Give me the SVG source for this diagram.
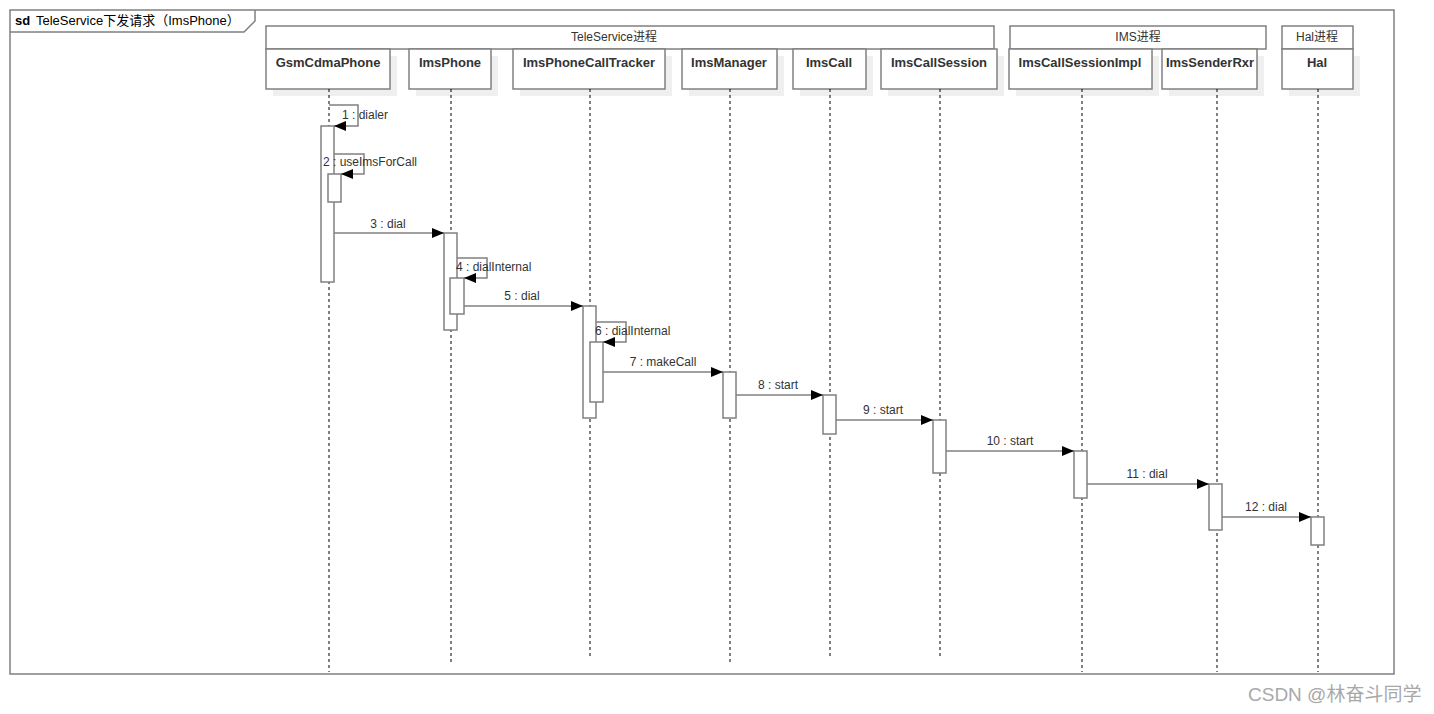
<svg xmlns="http://www.w3.org/2000/svg" width="1434" height="714" viewBox="0 0 1434 714">
<defs>
<marker id="ah" viewBox="0 0 12 10" refX="12" refY="5" markerWidth="12" markerHeight="10" markerUnits="userSpaceOnUse" orient="auto">
<path d="M0,0 L12,5 L0,10 Z" fill="#000"/>
</marker>
</defs>
<style>
.frame{fill:#fff;stroke:#808080;stroke-width:1.5}
.box{fill:#fff;stroke:#808080;stroke-width:1.5}
.shadow{fill:#efefef;stroke:none}
.grp{fill:#fff;stroke:#808080;stroke-width:1.5}
.life{stroke:#000;stroke-width:1;stroke-dasharray:3,3;fill:none}
.act{fill:#fff;stroke:#808080;stroke-width:1.5}
.msg{fill:none;stroke:#808080;stroke-width:1.5;marker-end:url(#ah)}
.name{font-family:"Liberation Sans",Arial,"Noto Sans CJK SC",sans-serif;font-size:13px;font-weight:bold;fill:#333;text-anchor:middle}
.gtxt{font-family:"Liberation Sans",Arial,"Noto Sans CJK SC",sans-serif;font-size:12px;fill:#333;text-anchor:middle}
.lbl{font-family:"Liberation Sans",Arial,"Noto Sans CJK SC",sans-serif;font-size:12px;fill:#333}
.lblc{font-family:"Liberation Sans",Arial,"Noto Sans CJK SC",sans-serif;font-size:12px;fill:#333;text-anchor:middle}
</style>
<rect x="0" y="0" width="1434" height="714" fill="#fff"/>
<g id="frame">
<rect class="frame" x="10" y="10" width="1384" height="664"/>
<path d="M10,32 L244,32 L255,21 L255,10" fill="none" stroke="#808080" stroke-width="1.5"/>
<text x="15" y="25" font-family="Liberation Sans,Arial,'Noto Sans CJK SC',sans-serif" font-size="13" fill="#000"><tspan font-weight="bold">sd</tspan><tspan x="36">TeleService下发请求（ImsPhone）</tspan></text>
</g>
<g id="groups">
<g id="grp-teleservice"><rect class="grp" x="266" y="26" width="728" height="23"/><text class="gtxt" x="614" y="41">TeleService进程</text></g>
<g id="grp-ims"><rect class="grp" x="1010" y="26" width="256" height="23"/><text class="gtxt" x="1138" y="41">IMS进程</text></g>
<g id="grp-hal"><rect class="grp" x="1282" y="26" width="71" height="23"/><text class="gtxt" x="1317" y="41">Hal进程</text></g>
</g>
<g id="lifelines">
<g id="GsmCdmaPhone"><rect class="shadow" x="273" y="56" width="124" height="40"/><rect class="box" x="266" y="49" width="124" height="40"/><text class="name" x="328" y="67">GsmCdmaPhone</text><line class="life" x1="329" y1="89" x2="329" y2="672"/></g>
<g id="ImsPhone"><rect class="shadow" x="416" y="56" width="82" height="40"/><rect class="box" x="409" y="49" width="82" height="40"/><text class="name" x="450" y="67">ImsPhone</text><line class="life" x1="451" y1="89" x2="451" y2="662"/></g>
<g id="ImsPhoneCallTracker"><rect class="shadow" x="520" y="56" width="152" height="40"/><rect class="box" x="513" y="49" width="152" height="40"/><text class="name" x="589" y="67">ImsPhoneCallTracker</text><line class="life" x1="590" y1="89" x2="590" y2="656"/></g>
<g id="ImsManager"><rect class="shadow" x="689" y="56" width="95" height="40"/><rect class="box" x="682" y="49" width="95" height="40"/><text class="name" x="729" y="67">ImsManager</text><line class="life" x1="730" y1="89" x2="730" y2="662"/></g>
<g id="ImsCall"><rect class="shadow" x="800" y="56" width="73" height="40"/><rect class="box" x="793" y="49" width="73" height="40"/><text class="name" x="829" y="67">ImsCall</text><line class="life" x1="830" y1="89" x2="830" y2="656"/></g>
<g id="ImsCallSession"><rect class="shadow" x="888" y="56" width="116" height="40"/><rect class="box" x="881" y="49" width="116" height="40"/><text class="name" x="939" y="67">ImsCallSession</text><line class="life" x1="940" y1="89" x2="940" y2="656"/></g>
<g id="ImsCallSessionImpl"><rect class="shadow" x="1016" y="56" width="143" height="40"/><rect class="box" x="1009" y="49" width="143" height="40"/><text class="name" x="1080" y="67">ImsCallSessionImpl</text><line class="life" x1="1082" y1="89" x2="1082" y2="672"/></g>
<g id="ImsSenderRxr"><rect class="shadow" x="1169" y="56" width="95" height="40"/><rect class="box" x="1162" y="49" width="95" height="40"/><text class="name" x="1210" y="67">ImsSenderRxr</text><line class="life" x1="1217" y1="89" x2="1217" y2="672"/></g>
<g id="Hal"><rect class="shadow" x="1289" y="56" width="71" height="40"/><rect class="box" x="1282" y="49" width="71" height="40"/><text class="name" x="1317" y="67">Hal</text><line class="life" x1="1318" y1="89" x2="1318" y2="672"/></g>
</g>
<g id="activations">
<rect class="act" x="321" y="126" width="13" height="156"/>
<rect class="act" x="328" y="174" width="13" height="28"/>
<rect class="act" x="444" y="233" width="13" height="97"/>
<rect class="act" x="450" y="278" width="14" height="36"/>
<rect class="act" x="583" y="306" width="13" height="112"/>
<rect class="act" x="590" y="342" width="13" height="60"/>
<rect class="act" x="723" y="372" width="13" height="46"/>
<rect class="act" x="823" y="395" width="13" height="39"/>
<rect class="act" x="933" y="420" width="13" height="53"/>
<rect class="act" x="1074" y="451" width="13" height="47"/>
<rect class="act" x="1209" y="484" width="13" height="46"/>
<rect class="act" x="1311" y="517" width="13" height="28"/>
</g>
<g id="connectors">
<path class="msg" d="M329,105 L358,105 L358,126 L334,126"/>
<path class="msg" d="M334,154 L364,154 L364,174 L341,174"/>
<path class="msg" d="M334,233 L444,233"/>
<path class="msg" d="M457,258 L487,258 L487,278 L464,278"/>
<path class="msg" d="M464,306 L583,306"/>
<path class="msg" d="M596,322 L626,322 L626,342 L603,342"/>
<path class="msg" d="M603,372 L723,372"/>
<path class="msg" d="M736,395 L823,395"/>
<path class="msg" d="M836,420 L933,420"/>
<path class="msg" d="M946,451 L1074,451"/>
<path class="msg" d="M1087,484 L1209,484"/>
<path class="msg" d="M1222,517 L1311,517"/>
<text class="lbl" x="342" y="119">1 : dialer</text>
<text class="lbl" x="323" y="166">2 : useImsForCall</text>
<text class="lblc" x="388" y="228">3 : dial</text>
<text class="lbl" x="456" y="271">4 : dialInternal</text>
<text class="lblc" x="522" y="300">5 : dial</text>
<text class="lbl" x="595" y="335">6 : dialInternal</text>
<text class="lblc" x="663" y="366">7 : makeCall</text>
<text class="lblc" x="778" y="389">8 : start</text>
<text class="lblc" x="883" y="414">9 : start</text>
<text class="lblc" x="1010" y="445">10 : start</text>
<text class="lblc" x="1147" y="478">11 : dial</text>
<text class="lblc" x="1266" y="511">12 : dial</text>
</g>
<text x="1248" y="701" font-family="Liberation Sans,Arial,'Noto Sans CJK SC',sans-serif" font-size="19" fill="#a8a8a8">CSDN @林奋斗同学</text>
</svg>
